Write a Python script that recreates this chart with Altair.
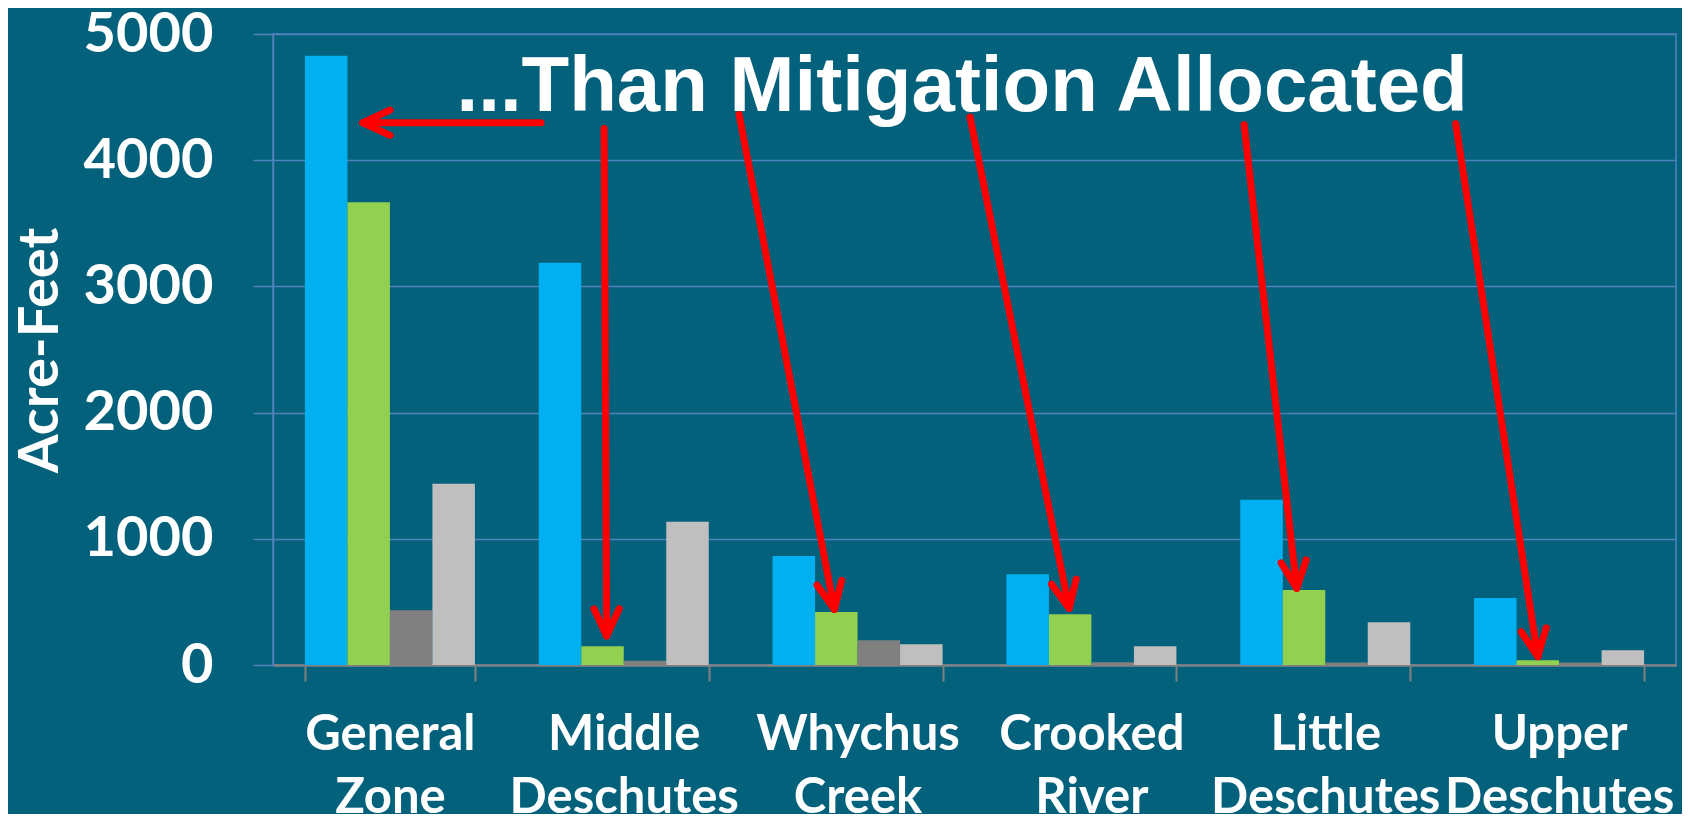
import math
import altair as alt
import pandas as pd

# ---------------- data ----------------
zones = ["General Zone", "Middle Deschutes", "Whychus Creek",
         "Crooked River", "Little Deschutes", "Upper Deschutes"]
series = ["Series 1", "Series 2", "Series 3", "Series 4"]
series_colors = ["#00B0F0", "#92D050", "#808080", "#BFBFBF"]
s1 = [4828, 3188, 863, 719, 1310, 530]
s2 = [3666, 148, 420, 402, 595, 37]
s3 = [433, 34, 196, 21, 20, 20]
s4 = [1436, 1136, 164, 148, 338, 116]
y_ticks = [0, 1000, 2000, 3000, 4000, 5000]

# annotation: arrows (x in category units 0..6, y in acre-feet)
arrow_tail_u = [1.146, 1.416, 1.993, 2.981, 4.153, 5.058]
arrow_tail_v = [4297, 4252, 4363, 4341, 4281, 4289]
arrow_tip_u = [0.384, 1.427, 2.401, 3.405, 4.378, 5.409]
arrow_tip_v = [4297, 230, 441, 449, 607, 66]
headline = ["...Than Mitigation Allocated"]
headline_u = [2.947]
headline_v = [4389]

# ---------------- tables ----------------
rows = []
for vals, s in zip([s1, s2, s3, s4], series):
    for z, v in zip(zones, vals):
        rows.append({"zone": z, "series": s, "value": v})
df = pd.DataFrame(rows)

W, H = 1403, 631
px_u = W / 6.0
px_v = H / 5000.0
angles = []
for tu, tv, hu, hv in zip(arrow_tail_u, arrow_tail_v, arrow_tip_u, arrow_tip_v):
    dx = (hu - tu) * px_u
    dy = -(hv - tv) * px_v
    angles.append(math.degrees(math.atan2(dx, -dy)) % 360)
adf = pd.DataFrame({"tail_u": arrow_tail_u, "tail_v": arrow_tail_v,
                    "tip_u": arrow_tip_u, "tip_v": arrow_tip_v, "ang": angles})
tdf = pd.DataFrame({"text": headline, "u": headline_u, "v": headline_v})

yscale = alt.Scale(domain=[0, 5000], nice=False, zero=True)
yaxis = alt.Axis(values=y_ticks, title="Acre-Feet", format="d")
xq = alt.Scale(domain=[0, 6], nice=False, zero=False)
RED = "#FF0000"

bars = alt.Chart(df).mark_bar().encode(
    x=alt.X("zone:N", sort=zones,
            scale=alt.Scale(paddingInner=0.273, paddingOuter=0.1365),
            axis=alt.Axis(title=None, labelExpr="split(datum.label, ' ')")),
    xOffset=alt.XOffset("series:N", sort=series,
                        scale=alt.Scale(paddingInner=0, paddingOuter=0)),
    y=alt.Y("value:Q", scale=yscale, axis=yaxis),
    color=alt.Color("series:N", sort=series,
                    scale=alt.Scale(domain=series, range=series_colors),
                    legend=None),
)

shafts = alt.Chart(adf).mark_rule(color=RED, strokeWidth=7, strokeCap="round").encode(
    x=alt.X("tail_u:Q", scale=xq, axis=None),
    x2="tip_u:Q",
    y=alt.Y("tail_v:Q", scale=yscale, axis=yaxis),
    y2="tip_v:Q",
)

heads = alt.Chart(adf).mark_point(
    shape="M -0.42 0.906 L 0 0 L 0.42 0.906",
    filled=False, color=RED, strokeWidth=7, strokeCap="round",
    strokeJoin="round", size=3600, opacity=1,
).encode(
    x=alt.X("tip_u:Q", scale=xq, axis=None),
    y=alt.Y("tip_v:Q", scale=yscale, axis=yaxis),
    angle=alt.Angle("ang:Q", scale=None),
)

title_text = alt.Chart(tdf).mark_text(
    font="Liberation Sans", fontSize=78, fontWeight="bold", color="white",
    align="center", baseline="alphabetic",
).encode(
    x=alt.X("u:Q", scale=xq, axis=None),
    y=alt.Y("v:Q", scale=yscale, axis=yaxis),
    text="text:N",
)

chart = alt.layer(bars, shafts, heads, title_text).resolve_scale(
    x="independent"
).properties(
    width=W, height=H,
    background="#04617B",
    padding={"left": 265, "top": 26, "right": 6, "bottom": 149},
    autosize=alt.AutoSizeParams(type="none"),
).configure_view(
    stroke="#4F81BD", strokeWidth=1.5
).configure_axisY(
    domain=True, domainColor="#4F81BD", domainWidth=1.5,
    ticks=True, tickColor="#4F81BD", tickSize=20, tickWidth=1.5,
    grid=True, gridColor="#4F81BD", gridWidth=1.5,
    labelFont="Lato", labelFontSize=56, labelFontWeight="bold",
    labelColor="white", labelPadding=40,
    titleFont="Lato", titleFontSize=56, titleFontWeight="bold",
    titleColor="white", titleX=-216, titleY=316, titleAngle=270,
    titleAlign="center", titleBaseline="alphabetic",
).configure_axisX(
    domain=True, domainColor="#808080", domainWidth=2.5,
    ticks=True, tickColor="#808080", tickWidth=2, tickSize=16,
    tickBand="extent", grid=False,
    labelAngle=0, labelPadding=29, labelFont="Lato", labelFontSize=49,
    labelFontWeight="bold", labelColor="white", labelLineHeight=63,
    labelBaseline="top", labelOverlap=False, labelLimit=0,
)

chart.save("out.html", embed_options={"renderer": "svg", "actions": False})
